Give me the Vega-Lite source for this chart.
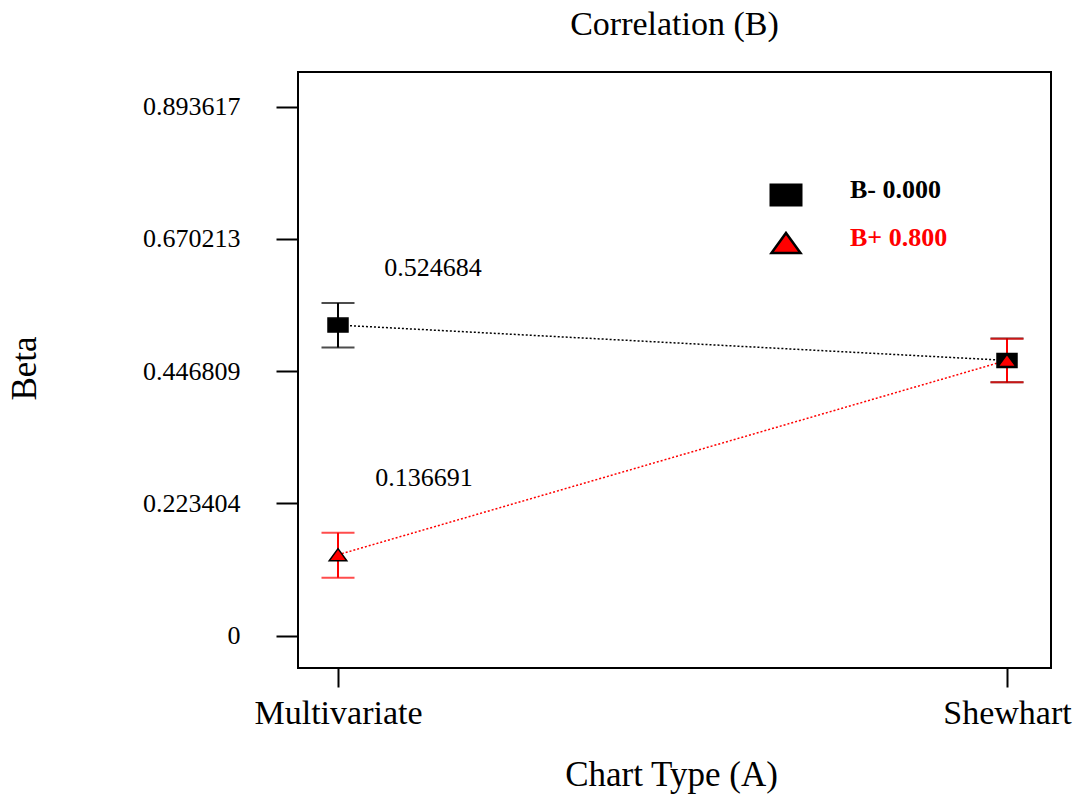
{
  "$schema": "https://vega.github.io/schema/vega-lite/v6.json",
  "autosize": {"type": "none"},
  "padding": {"left": 298, "top": 72, "right": 28, "bottom": 128},
  "width": 753,
  "height": 596,
  "background": "white",
  "title": {"text": "Correlation (B)", "font": "Liberation Serif", "fontSize": 34, "fontWeight": "normal", "color": "black", "anchor": "middle", "baseline": "alphabetic", "offset": 3},
  "config": {
    "view": {"stroke": "black", "strokeWidth": 2},
    "axis": {"grid": false, "domain": false}
  },
  "data": {"values": [
    {"chart": "Multivariate", "group": "B- 0.000", "beta": 0.524684, "lo": 0.487, "hi": 0.562},
    {"chart": "Shewhart", "group": "B- 0.000", "beta": 0.465, "lo": 0.428, "hi": 0.502},
    {"chart": "Multivariate", "group": "B+ 0.800", "beta": 0.136691, "lo": 0.098, "hi": 0.174},
    {"chart": "Shewhart", "group": "B+ 0.800", "beta": 0.4652, "lo": 0.4281, "hi": 0.5017}
  ]},
  "encoding": {
    "x": {"field": "chart", "type": "nominal",
      "scale": {"type": "point", "domain": ["Multivariate", "Shewhart"], "range": [40, 709], "padding": 0},
      "axis": {"title": "Chart Type (A)", "titleFont": "Liberation Serif", "titleFontSize": 35, "titleFontWeight": "normal", "titleColor": "black", "titleY": 117, "titleX": 373, "titleBaseline": "alphabetic", "titleAlign": "center",
        "labelFont": "Liberation Serif", "labelFontSize": 34, "labelColor": "black", "labelAngle": 0, "labelPadding": 9, "tickSize": 19, "tickWidth": 2, "tickColor": "black", "domain": false, "grid": false}},
    "y": {"field": "beta", "type": "quantitative",
      "scale": {"domain": [-0.0546, 0.9522], "nice": false, "zero": false},
      "axis": {"title": "Beta", "values": [0, 0.223404, 0.446809, 0.670213, 0.893617], "format": ".6~f",
        "titleFont": "Liberation Serif", "titleFontSize": 35, "titleFontWeight": "normal", "titleColor": "black", "titleX": -263, "titleY": 296, "titleAngle": -90, "titleAlign": "center", "titleBaseline": "alphabetic",
        "labelFont": "Liberation Serif", "labelFontSize": 26, "labelColor": "black", "labelPadding": 36, "tickSize": 22, "tickWidth": 2, "tickColor": "black", "domain": false, "grid": false}}
  },
  "layer": [
    {
      "mark": {"type": "line", "strokeDash": [2, 2], "strokeWidth": 1.5},
      "encoding": {
        "stroke": {"field": "group", "type": "nominal", "scale": {"domain": ["B+ 0.800", "B- 0.000"], "range": ["red", "black"]}, "legend": null},
        "detail": {"field": "group"}
      }
    },
    {
      "mark": {"type": "rule", "strokeWidth": 2},
      "encoding": {
        "y": {"field": "lo", "type": "quantitative",
          "scale": {"domain": [-0.0546, 0.9522], "nice": false, "zero": false},
          "axis": {"title": "Beta", "values": [0, 0.223404, 0.446809, 0.670213, 0.893617], "format": ".6~f",
            "titleFont": "Liberation Serif", "titleFontSize": 35, "titleFontWeight": "normal", "titleColor": "black", "titleX": -263, "titleY": 296, "titleAngle": -90, "titleAlign": "center", "titleBaseline": "alphabetic",
            "labelFont": "Liberation Serif", "labelFontSize": 26, "labelColor": "black", "labelPadding": 36, "tickSize": 22, "tickWidth": 2, "tickColor": "black", "domain": false, "grid": false}},
        "y2": {"field": "hi"},
        "stroke": {"field": "group", "type": "nominal", "scale": {"domain": ["B+ 0.800", "B- 0.000"], "range": ["red", "black"]}, "legend": null}
      }
    },
    {
      "mark": {"type": "tick", "size": 33, "thickness": 2},
      "encoding": {
        "y": {"field": "lo", "type": "quantitative",
          "scale": {"domain": [-0.0546, 0.9522], "nice": false, "zero": false},
          "axis": {"title": "Beta", "values": [0, 0.223404, 0.446809, 0.670213, 0.893617], "format": ".6~f",
            "titleFont": "Liberation Serif", "titleFontSize": 35, "titleFontWeight": "normal", "titleColor": "black", "titleX": -263, "titleY": 296, "titleAngle": -90, "titleAlign": "center", "titleBaseline": "alphabetic",
            "labelFont": "Liberation Serif", "labelFontSize": 26, "labelColor": "black", "labelPadding": 36, "tickSize": 22, "tickWidth": 2, "tickColor": "black", "domain": false, "grid": false}},
        "fill": {"field": "group", "type": "nominal", "scale": {"domain": ["B+ 0.800", "B- 0.000"], "range": ["red", "black"]}, "legend": null}
      }
    },
    {
      "mark": {"type": "tick", "size": 33, "thickness": 2},
      "encoding": {
        "y": {"field": "hi", "type": "quantitative",
          "scale": {"domain": [-0.0546, 0.9522], "nice": false, "zero": false},
          "axis": {"title": "Beta", "values": [0, 0.223404, 0.446809, 0.670213, 0.893617], "format": ".6~f",
            "titleFont": "Liberation Serif", "titleFontSize": 35, "titleFontWeight": "normal", "titleColor": "black", "titleX": -263, "titleY": 296, "titleAngle": -90, "titleAlign": "center", "titleBaseline": "alphabetic",
            "labelFont": "Liberation Serif", "labelFontSize": 26, "labelColor": "black", "labelPadding": 36, "tickSize": 22, "tickWidth": 2, "tickColor": "black", "domain": false, "grid": false}},
        "fill": {"field": "group", "type": "nominal", "scale": {"domain": ["B+ 0.800", "B- 0.000"], "range": ["red", "black"]}, "legend": null}
      }
    },
    {
      "mark": {"type": "point", "filled": true, "size": 400, "opacity": 1, "stroke": "black", "strokeWidth": 1.5},
      "encoding": {
        "color": {"field": "group", "type": "nominal", "scale": {"domain": ["B- 0.000", "B+ 0.800"], "range": ["black", "red"]},
          "legend": {"title": null, "orient": "none", "legendX": 470, "legendY": 105, "padding": 0, "symbolSize": 1089, "symbolStrokeColor": "black", "symbolStrokeWidth": 2.5, "symbolOpacity": 1,
            "labelFont": "Liberation Serif", "labelFontSize": 26, "labelFontWeight": "bold", "labelColor": {"expr": "datum.label === 'B+ 0.800' ? '#ff0000' : '#000000'"}, "labelOffset": 46, "rowPadding": 13,
            "encode": {"symbols": {"update": {"stroke": {"signal": "datum.value === 'B+ 0.800' ? '#000000' : 'transparent'"}, "strokeWidth": {"value": 2.5}}}, "labels": {"update": {"dy": {"value": -5}}}}}},
        "shape": {"field": "group", "type": "nominal", "scale": {"domain": ["B- 0.000", "B+ 0.800"], "range": ["M-1,-0.7H1V0.7H-1Z", "M0,-0.61L0.88,0.61L-0.88,0.61Z"]},
          "legend": {"title": null, "orient": "none", "legendX": 470, "legendY": 105, "padding": 0, "symbolSize": 1089, "symbolStrokeColor": "black", "symbolStrokeWidth": 2.5, "symbolOpacity": 1,
            "labelFont": "Liberation Serif", "labelFontSize": 26, "labelFontWeight": "bold", "labelColor": {"expr": "datum.label === 'B+ 0.800' ? '#ff0000' : '#000000'"}, "labelOffset": 46, "rowPadding": 13,
            "encode": {"symbols": {"update": {"stroke": {"signal": "datum.value === 'B+ 0.800' ? '#000000' : 'transparent'"}, "strokeWidth": {"value": 2.5}}}, "labels": {"update": {"dy": {"value": -5}}}}}}
      }
    },
    {
      "transform": [{"filter": "datum.chart === 'Multivariate' && datum.group === 'B- 0.000'"}],
      "mark": {"type": "text", "font": "Liberation Serif", "fontSize": 26, "fill": "black", "dx": 95, "dy": -57, "baseline": "middle", "align": "center"},
      "encoding": {
        "text": {"field": "beta", "type": "quantitative", "format": ".6f"}
      }
    },
    {
      "transform": [{"filter": "datum.chart === 'Multivariate' && datum.group === 'B+ 0.800'"}],
      "mark": {"type": "text", "font": "Liberation Serif", "fontSize": 26, "fill": "black", "dx": 86, "dy": -77, "baseline": "middle", "align": "center"},
      "encoding": {
        "text": {"field": "beta", "type": "quantitative", "format": ".6f"}
      }
    }
  ]
}
